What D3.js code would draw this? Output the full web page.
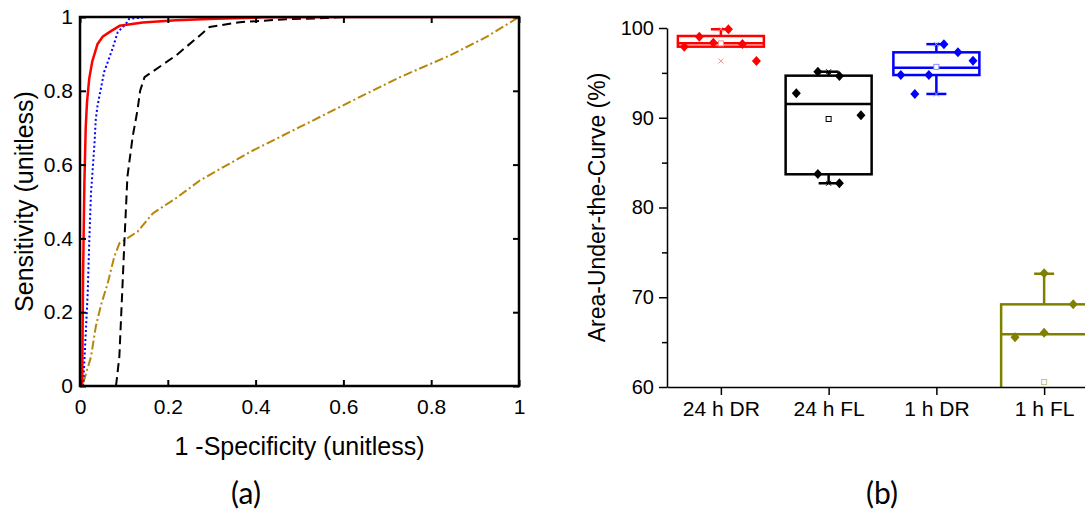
<!DOCTYPE html>
<html><head><meta charset="utf-8">
<script src="https://cdn.jsdelivr.net/npm/d3@7"></script>
<style>body{margin:0;background:#fff} svg{display:block}</style>
</head><body>
<svg id="c" width="1085" height="510"></svg>
<script>
// ================= Panel (a): ROC curves, points are [1-specificity, sensitivity]
const roc24hDR = [[0.005,0],[0.007,0.3],[0.010,0.55],[0.013,0.70],[0.016,0.77],[0.021,0.833],[0.028,0.88],[0.040,0.927],[0.052,0.947],[0.067,0.959],[0.090,0.976],[0.143,0.985],[0.219,0.991],[0.31,0.995],[0.42,0.999],[0.6,1],[1,1]];
const roc1hDR = [[0.007,0],[0.012,0.116],[0.0175,0.25],[0.021,0.387],[0.025,0.522],[0.033,0.657],[0.036,0.724],[0.040,0.76],[0.055,0.851],[0.074,0.914],[0.086,0.959],[0.105,0.982],[0.112,0.995],[0.154,1],[1,1]];
const roc24hFL = [[0.082,0],[0.0896,0.079],[0.096,0.25],[0.101,0.387],[0.108,0.567],[0.120,0.676],[0.131,0.748],[0.137,0.80],[0.147,0.837],[0.219,0.896],[0.273,0.95],[0.295,0.973],[0.364,0.986],[0.47,0.994],[0.56,0.997],[0.6,1],[1,1]];
const roc1hFL = [[0.008,0.01],[0.0137,0.034],[0.025,0.079],[0.036,0.161],[0.048,0.22],[0.063,0.278],[0.078,0.35],[0.090,0.387],[0.131,0.418],[0.166,0.468],[0.22,0.51],[0.273,0.557],[0.387,0.634],[0.501,0.702],[0.615,0.77],[0.729,0.837],[0.843,0.896],[0.926,0.946],[1,1]];
const rocTicks = [0, 0.2, 0.4, 0.6, 0.8, 1];
const rocTickLabels = ["0", "0.2", "0.4", "0.6", "0.8", "1"];

// ================= Panel (b): AUC box plots (%)
const categories = ["24 h DR", "24 h FL", "1 h DR", "1 h FL"];
const aucPoints = [
  [97.92, 99.03, 98.36, 99.86, 98.22, 96.32],
  [92.72, 95.13, 94.65, 90.27, 83.73, 82.70],
  [94.76, 92.65, 94.76, 98.18, 97.29, 96.36],
  [65.54, 66.05, 72.67, 69.21, 43.90, 46.00]
];
const aucJitter = [
  [-0.34, -0.20, -0.07, 0.07, 0.20, 0.33],
  [-0.30, -0.10, 0.10, 0.30, -0.10, 0.10],
  [-0.33, -0.20, -0.07, 0.07, 0.20, 0.34],
  [-0.27, 0, 0, 0.27, -0.27, 0.27]
];
const aucQ1 = [97.92, 83.70, 94.76, 46.0];
const aucMedian = [98.30, 91.53, 95.58, 65.87];
const aucQ3 = [99.11, 94.69, 97.29, 69.21];
const aucWhiskerLow = [97.92, 82.70, 92.65, 43.9];
const aucWhiskerHigh = [99.86, 95.13, 98.20, 72.62];
const aucMean = [98.29, 89.86, 95.67, 60.56];
const aucMin = [96.32, 82.70, 92.65, 43.9];
const aucMax = [99.86, 95.13, 98.18, 72.67];
const aucTicks = [60, 70, 80, 90, 100];
const aucMinorTicks = [65, 75, 85, 95];

// ================= drawing
const svg = d3.select("#c");
const FONT = "'Liberation Sans', Arial, sans-serif";

// ---------- panel (a)
const xA = d3.scaleLinear().domain([0, 1]).range([80, 519]);
const yA = d3.scaleLinear().domain([0, 1]).range([386, 17]);
const gA = svg.append("g");
gA.append("clipPath").attr("id", "clipA").append("rect")
  .attr("x", xA(0)).attr("y", yA(1)).attr("width", xA(1) - xA(0)).attr("height", yA(0) - yA(1));

const line = d3.line().x(d => xA(d[0])).y(d => yA(d[1]));
const curves = [
  {data: roc1hFL, color: "#b8860b", dash: "9,3,2,3", w: 2},
  {data: roc24hFL, color: "#000", dash: "9,5", w: 2},
  {data: roc1hDR, color: "#0000ff", dash: "2,2.5", w: 2},
  {data: roc24hDR, color: "#ff0000", dash: null, w: 2.5}
];
const gc = gA.append("g").attr("clip-path", "url(#clipA)");
curves.forEach(c => {
  gc.append("path").attr("d", line(c.data)).attr("fill", "none")
    .attr("stroke", c.color).attr("stroke-width", c.w)
    .attr("stroke-dasharray", c.dash).attr("stroke-linejoin", "round");
});

function styleAxis(g, size) {
  g.selectAll("text").attr("font-family", FONT).attr("font-size", size).attr("fill", "#000");
  g.selectAll("line").attr("stroke", "#000").attr("stroke-width", 2);
}
const fmtA = d => rocTickLabels[rocTicks.indexOf(d)];
gA.append("g").attr("transform", `translate(0,${yA(0)})`)
  .call(d3.axisBottom(xA).tickValues(rocTicks).tickFormat(fmtA).tickSize(-6).tickSizeOuter(0).tickPadding(13))
  .call(g => g.select(".domain").remove()).call(g => styleAxis(g, 21));
gA.append("g").attr("transform", `translate(0,${yA(1)})`)
  .call(d3.axisTop(xA).tickValues(rocTicks).tickFormat("").tickSize(-6).tickSizeOuter(0))
  .call(g => g.select(".domain").remove()).call(g => styleAxis(g, 21));
gA.append("g").attr("transform", `translate(${xA(0)},0)`)
  .call(d3.axisLeft(yA).tickValues(rocTicks).tickFormat(fmtA).tickSize(-6).tickSizeOuter(0).tickPadding(7))
  .call(g => g.select(".domain").remove()).call(g => styleAxis(g, 21));
gA.append("g").attr("transform", `translate(${xA(1)},0)`)
  .call(d3.axisRight(yA).tickValues(rocTicks).tickFormat("").tickSize(-6).tickSizeOuter(0))
  .call(g => g.select(".domain").remove()).call(g => styleAxis(g, 21));
gA.append("rect").attr("x", xA(0)).attr("y", yA(1)).attr("width", xA(1) - xA(0)).attr("height", yA(0) - yA(1))
  .attr("fill", "none").attr("stroke", "#000").attr("stroke-width", 2.5);

gA.append("text").attr("transform", `translate(24,${(yA(0) + yA(1)) / 2}) rotate(-90)`)
  .attr("text-anchor", "middle").attr("dominant-baseline", "central")
  .attr("font-family", FONT).attr("font-size", 25).text("Sensitivity (unitless)");
gA.append("text").attr("x", (xA(0) + xA(1)) / 2).attr("y", 446)
  .attr("text-anchor", "middle").attr("dominant-baseline", "central")
  .attr("font-family", FONT).attr("font-size", 25).text("1 -Specificity (unitless)");
svg.append("text").attr("x", 246).attr("y", 492).attr("text-anchor", "middle").attr("dominant-baseline", "central")
  .attr("font-family", "Lato, 'Open Sans', sans-serif").attr("font-size", 30).text("(a)");

// ---------- panel (b)
const xB = d3.scalePoint().domain(categories).range([667, 1098]).padding(0.5);
const stepB = xB.step();
const yB = d3.scaleLinear().domain([60, 100]).range([387, 28]);
const colors = ["#ff0000", "#000000", "#0000ff", "#808000"];
const lightColors = ["#ff8c8c", "#000000", "#8c8cff", "#c4c48a"];
const boxW = 86;
const capW = 20;

const gB = svg.append("g");
gB.append("clipPath").attr("id", "clipB").append("rect")
  .attr("x", 667).attr("y", 0).attr("width", 500).attr("height", 387);
const gp = gB.append("g").attr("clip-path", "url(#clipB)");

const diamond = {
  draw(ctx, size) {
    const h = Math.sqrt(size) / 2, w = h * 0.9;
    ctx.moveTo(0, -h); ctx.lineTo(w, 0); ctx.lineTo(0, h); ctx.lineTo(-w, 0); ctx.closePath();
  }
};

categories.forEach((cat, i) => {
  const cx = xB(cat), col = colors[i], lc = lightColors[i];
  const g = gp.append("g");
  g.append("line").attr("x1", cx).attr("x2", cx).attr("y1", yB(aucQ3[i])).attr("y2", yB(aucWhiskerHigh[i]))
    .attr("stroke", col).attr("stroke-width", 2.5);
  g.append("line").attr("x1", cx).attr("x2", cx).attr("y1", yB(aucQ1[i])).attr("y2", yB(aucWhiskerLow[i]))
    .attr("stroke", col).attr("stroke-width", 2.5);
  if (aucWhiskerHigh[i] > aucQ3[i])
    g.append("line").attr("x1", cx - capW / 2).attr("x2", cx + capW / 2)
      .attr("y1", yB(aucWhiskerHigh[i])).attr("y2", yB(aucWhiskerHigh[i])).attr("stroke", col).attr("stroke-width", 2.5);
  if (aucWhiskerLow[i] < aucQ1[i])
    g.append("line").attr("x1", cx - capW / 2).attr("x2", cx + capW / 2)
      .attr("y1", yB(aucWhiskerLow[i])).attr("y2", yB(aucWhiskerLow[i])).attr("stroke", col).attr("stroke-width", 2.5);
  g.append("rect").attr("x", cx - boxW / 2).attr("y", yB(aucQ3[i])).attr("width", boxW)
    .attr("height", yB(aucQ1[i]) - yB(aucQ3[i])).attr("fill", "none").attr("stroke", col).attr("stroke-width", 2.5);
  g.append("line").attr("x1", cx - boxW / 2).attr("x2", cx + boxW / 2)
    .attr("y1", yB(aucMedian[i])).attr("y2", yB(aucMedian[i])).attr("stroke", col).attr("stroke-width", 2.5);
  g.append("rect").attr("x", cx - 2.5).attr("y", yB(aucMean[i]) - 2.5).attr("width", 5).attr("height", 5)
    .attr("fill", "#fff").attr("stroke", lc).attr("stroke-width", 1);
  [aucMin[i], aucMax[i]].forEach(v => {
    g.append("path").attr("transform", `translate(${cx},${yB(v)})`)
      .attr("d", "M-2.5,-2.5L2.5,2.5M-2.5,2.5L2.5,-2.5").attr("stroke", lc).attr("stroke-width", 1);
  });
  aucPoints[i].forEach((v, j) => {
    g.append("path").attr("transform", `translate(${cx + aucJitter[i][j] * stepB},${yB(v)})`)
      .attr("d", d3.symbol().type(diamond).size(100)()).attr("fill", col);
  });
});

const yAxB = gB.append("g").attr("transform", "translate(667,0)")
  .call(d3.axisLeft(yB).tickValues(aucTicks).tickSize(8).tickSizeOuter(0).tickPadding(5));
yAxB.selectAll("text").attr("font-family", FONT).attr("font-size", 20);
yAxB.selectAll("line").attr("stroke-width", 1.5);
yAxB.select(".domain").attr("stroke-width", 1.5);
gB.append("g").attr("transform", "translate(667,0)")
  .call(d3.axisLeft(yB).tickValues(aucMinorTicks).tickFormat("").tickSize(5).tickSizeOuter(0))
  .call(g => g.select(".domain").remove())
  .selectAll("line").attr("stroke-width", 1.5);
const xAxB = gB.append("g").attr("transform", `translate(0,${yB(60)})`)
  .call(d3.axisBottom(xB).tickSize(8).tickSizeOuter(0).tickPadding(6));
xAxB.selectAll("text").attr("font-family", FONT).attr("font-size", 21);
xAxB.selectAll("line").attr("stroke-width", 1.5);
xAxB.select(".domain").attr("stroke-width", 1.5);

gB.append("text").attr("transform", `translate(597,${(yB(60) + yB(100)) / 2}) rotate(-90)`)
  .attr("text-anchor", "middle").attr("dominant-baseline", "central")
  .attr("font-family", FONT).attr("font-size", 23).text("Area-Under-the-Curve (%)");
svg.append("text").attr("x", 882).attr("y", 492).attr("text-anchor", "middle").attr("dominant-baseline", "central")
  .attr("font-family", "Lato, 'Open Sans', sans-serif").attr("font-size", 30).text("(b)");
</script>
</body></html>
